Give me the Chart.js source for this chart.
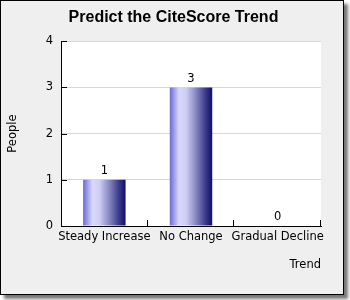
<!DOCTYPE html>
<html>
<head>
<meta charset="utf-8">
<script src="https://cdn.jsdelivr.net/npm/chart.js@4"></script>
<style>
  body { margin: 0; background: #ffffff; }
  #frame {
    position: absolute; left: 0; top: 0;
    width: 342px; height: 293px;
    border: 1px solid #000;
    background: #efefef;
    box-shadow: 4px 4px 3px #777;
  }
  canvas { display: block; }
</style>
</head>
<body>
<div id="frame"><canvas id="chart" width="342" height="293"></canvas></div>
<script>
const categories = ["Steady Increase", "No Change", "Gradual Decline"];
const people = [1, 3, 0];
const yTicks = [0, 1, 2, 3, 4];

const TICK_FONT = { family: "DejaVu Sans", size: 11.5 };

// white plot background
const plotBackground = {
    id: "plotBackground",
    beforeDraw(chart) {
        const { ctx, chartArea: a } = chart;
        ctx.save();
        ctx.fillStyle = "#ffffff";
        ctx.fillRect(a.left, a.top, a.right - a.left, a.bottom - a.top);
        ctx.restore();
    }
};

// horizontal gradient on each bar, built from the bar's own geometry
const barShading = {
    id: "barShading",
    beforeDatasetsDraw(chart) {
        const ctx = chart.ctx;
        chart.getDatasetMeta(0).data.forEach(bar => {
            const left = bar.x - bar.width / 2;
            const g = ctx.createLinearGradient(left, 0, left + bar.width, 0);
            g.addColorStop(0, "#6a6ad4");
            g.addColorStop(0.22, "#d8d8ff");
            g.addColorStop(0.38, "#cfcff6");
            g.addColorStop(0.62, "#8686bf");
            g.addColorStop(0.85, "#38388a");
            g.addColorStop(1, "#0e0e6c");
            bar.options = Object.assign({}, bar.options, { backgroundColor: g });
        });
    }
};

// inward tick marks and value labels
const extras = {
    id: "extras",
    afterDatasetsDraw(chart) {
        const { ctx, chartArea: a, scales } = chart;
        ctx.save();
        ctx.strokeStyle = "#000";
        ctx.lineWidth = 1;
        ctx.beginPath();
        yTicks.forEach(v => {
            const y = Math.round(scales.y.getPixelForValue(v)) + 0.5;
            ctx.moveTo(a.left, y);
            ctx.lineTo(a.left + 6, y);
        });
        const step = scales.x.getPixelForValue(1) - scales.x.getPixelForValue(0);
        categories.forEach((c, i) => {
            const x = Math.round(scales.x.getPixelForValue(i) + step / 2) - 0.5;
            ctx.moveTo(x, a.bottom);
            ctx.lineTo(x, a.bottom - 6);
        });
        ctx.stroke();

        ctx.fillStyle = "#000";
        ctx.font = "11.5px 'DejaVu Sans'";
        ctx.textAlign = "center";
        ctx.textBaseline = "bottom";
        chart.getDatasetMeta(0).data.forEach((bar, i) => {
            ctx.fillText(String(people[i]), bar.x, bar.y - 3);
        });
        ctx.restore();
    }
};

new Chart(document.getElementById("chart"), {
    type: "bar",
    data: {
        labels: categories,
        datasets: [{
            data: people,
            backgroundColor: () => "#8888d0",
            borderWidth: 0,
            barPercentage: 0.49,
            categoryPercentage: 1
        }]
    },
    options: {
        responsive: false,
        animation: false,
        layout: { padding: { left: 3, right: 0, top: 0, bottom: 20 } },
        scales: {
            x: {
                grid: { display: false, drawTicks: false },
                border: { color: "#000" },
                ticks: { color: "#000", font: TICK_FONT, padding: 4, maxRotation: 0, autoSkip: false },
                title: {
                    display: true,
                    text: "Trend",
                    align: "end",
                    color: "#000",
                    font: TICK_FONT,
                    padding: { top: 2, bottom: 2 }
                },
                afterFit(scale) { scale.height = 48; }
            },
            y: {
                min: 0,
                max: 4,
                grid: { color: "#d8d8d8", drawTicks: false },
                border: { color: "#000" },
                ticks: { color: "#000", font: TICK_FONT, padding: 8, stepSize: 1 },
                title: {
                    display: true,
                    text: "People",
                    color: "#000",
                    font: TICK_FONT,
                    padding: { top: 2, bottom: 0 }
                },
                afterFit(scale) { scale.width = 57; }
            },
            // empty right margin so the title stays centred on the whole canvas
            yRight: {
                position: "right",
                display: true,
                grid: { display: false, drawTicks: false },
                border: { display: false },
                ticks: { display: false },
                afterFit(scale) { scale.width = 22; }
            }
        },
        plugins: {
            legend: { display: false },
            tooltip: { enabled: false },
            title: {
                display: true,
                text: "Predict the CiteScore Trend",
                color: "#000",
                font: { family: "Liberation Sans", size: 16, weight: "bold" },
                padding: { top: 7, bottom: 14 }
            }
        }
    },
    plugins: [plotBackground, barShading, extras]
});
</script>
</body>
</html>
